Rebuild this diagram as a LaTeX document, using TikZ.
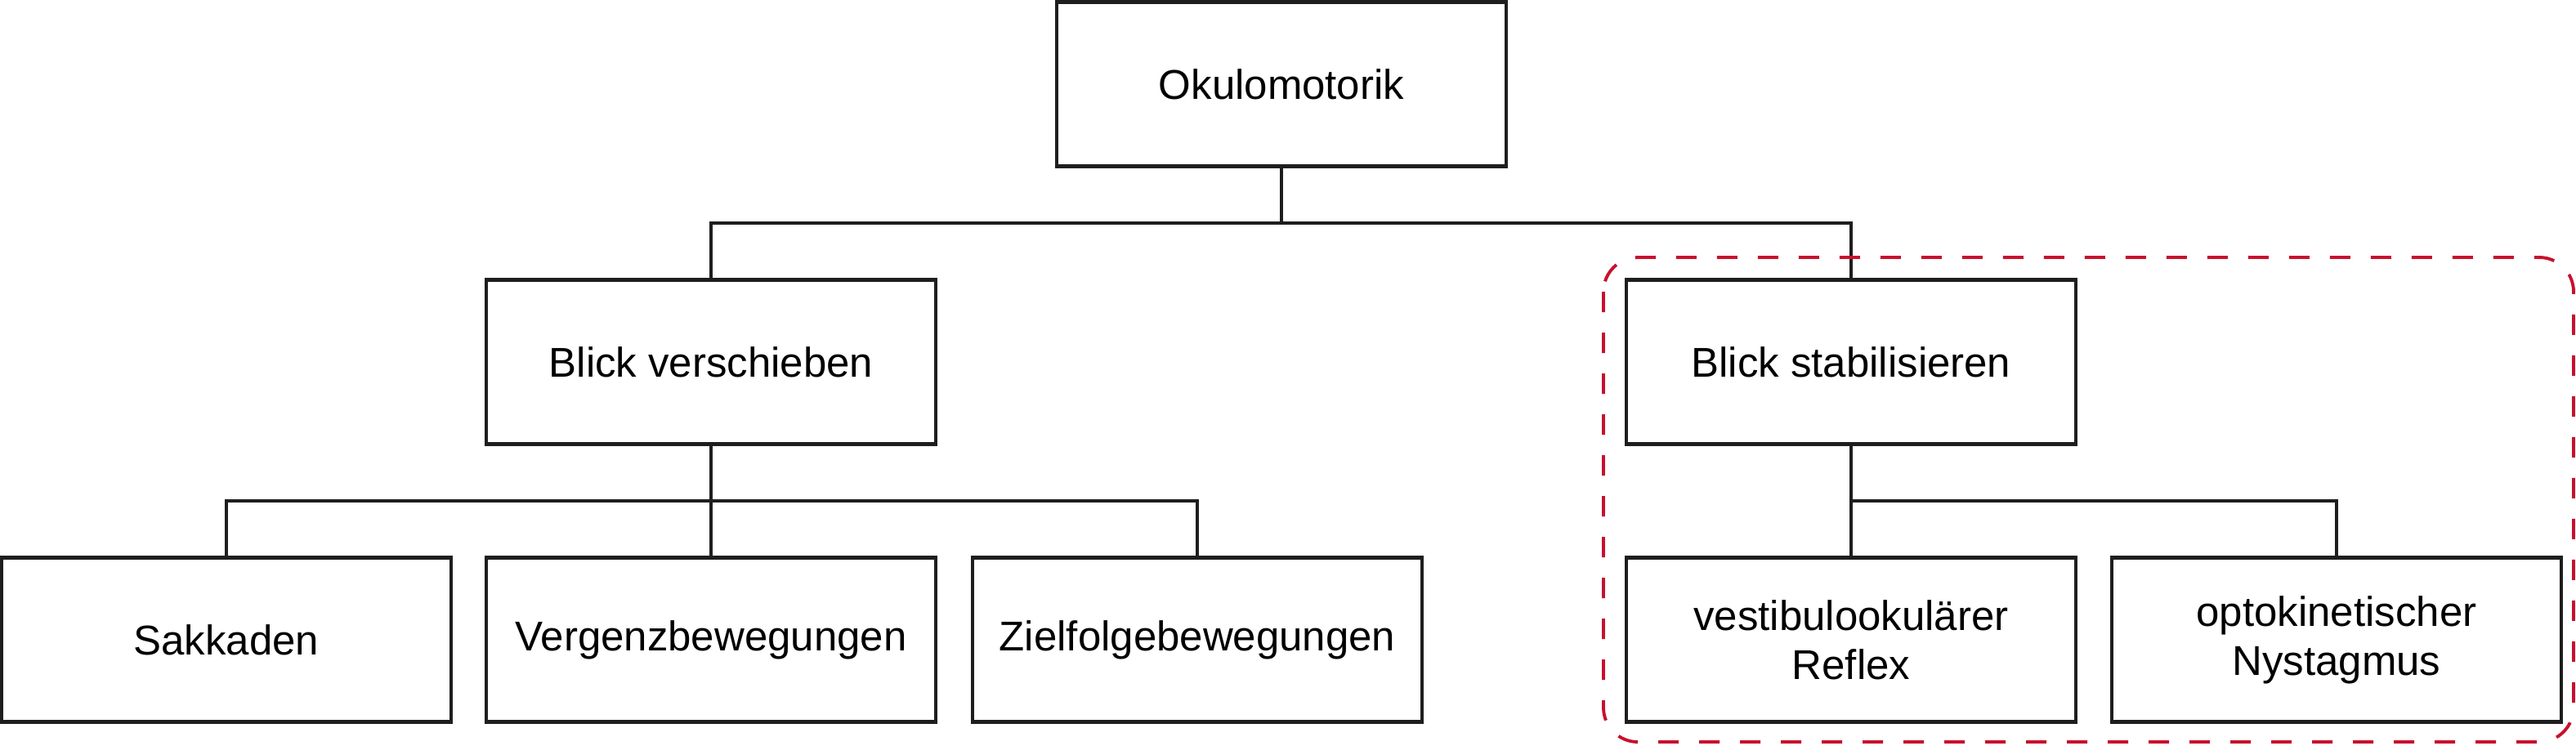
\documentclass[tikz,border=0pt]{standalone}
\usepackage{fontspec}
\setmainfont{Liberation Sans}
\usepackage{tikz}
\usetikzlibrary{calc}
\usetikzlibrary{positioning}
\definecolor{gruppenrot}{RGB}{200,16,46}
\definecolor{linie}{RGB}{30,30,30}

\begin{document}
\begin{tikzpicture}[font=\fontsize{14.5}{17}\selectfont]
        \useasboundingbox (0,0) rectangle (31.52,-9.12);
        \begin{scope}[every node/.style={rectangle, draw=linie, line width=1.3pt, fill=white, minimum width=5.5cm, minimum height=2.01cm, inner sep=0, align=center}]
            \node (okulo) at (15.68,-1.03) {Okulomotorik};
            \node (verschieben) at (8.70,-4.43) {Blick verschieben};
            \node (stabil) at (22.65,-4.43) {Blick stabilisieren};
            \node (sakkaden) at (2.77,-7.83) {Sakkaden};
            \node (vergenz) at (8.70,-7.83) {Vergenzbewegungen};
            \node (zielfolge) at (14.65,-7.83) {Zielfolgebewegungen};
            \node (vor) at (22.65,-7.83) {vestibulookulärer\\Reflex};
            \node (okn) at (28.59,-7.83) {optokinetischer\\Nystagmus};
        \end{scope}
        \coordinate (j0) at ($ (okulo.south)!0.5!(okulo.south |- verschieben.north) $);
        \coordinate (j1) at ($ (verschieben.south)!0.5!(verschieben.south |- vergenz.north) $);
        \coordinate (j2) at ($ (stabil.south)!0.5!(stabil.south |- vor.north) $);
        \draw[linie, line width=1.1pt]
            (okulo.south) -- (j0)
            (j0) -| (verschieben.north)
            (j0) -| (stabil.north);
        \draw[linie, line width=1.1pt]
            (verschieben.south) -- (vergenz.north)
            (j1) -| (sakkaden.north)
            (j1) -| (zielfolge.north);
        \draw[linie, line width=1.1pt]
            (stabil.south) -- (vor.north)
            (j2) -| (okn.north);
        \draw[gruppenrot, line width=1.1pt, dash pattern=on 0.25cm off 0.25cm, rounded corners=0.42cm]
            (19.62,-3.15) rectangle (31.49,-9.08);
    \end{tikzpicture}
\end{document}
